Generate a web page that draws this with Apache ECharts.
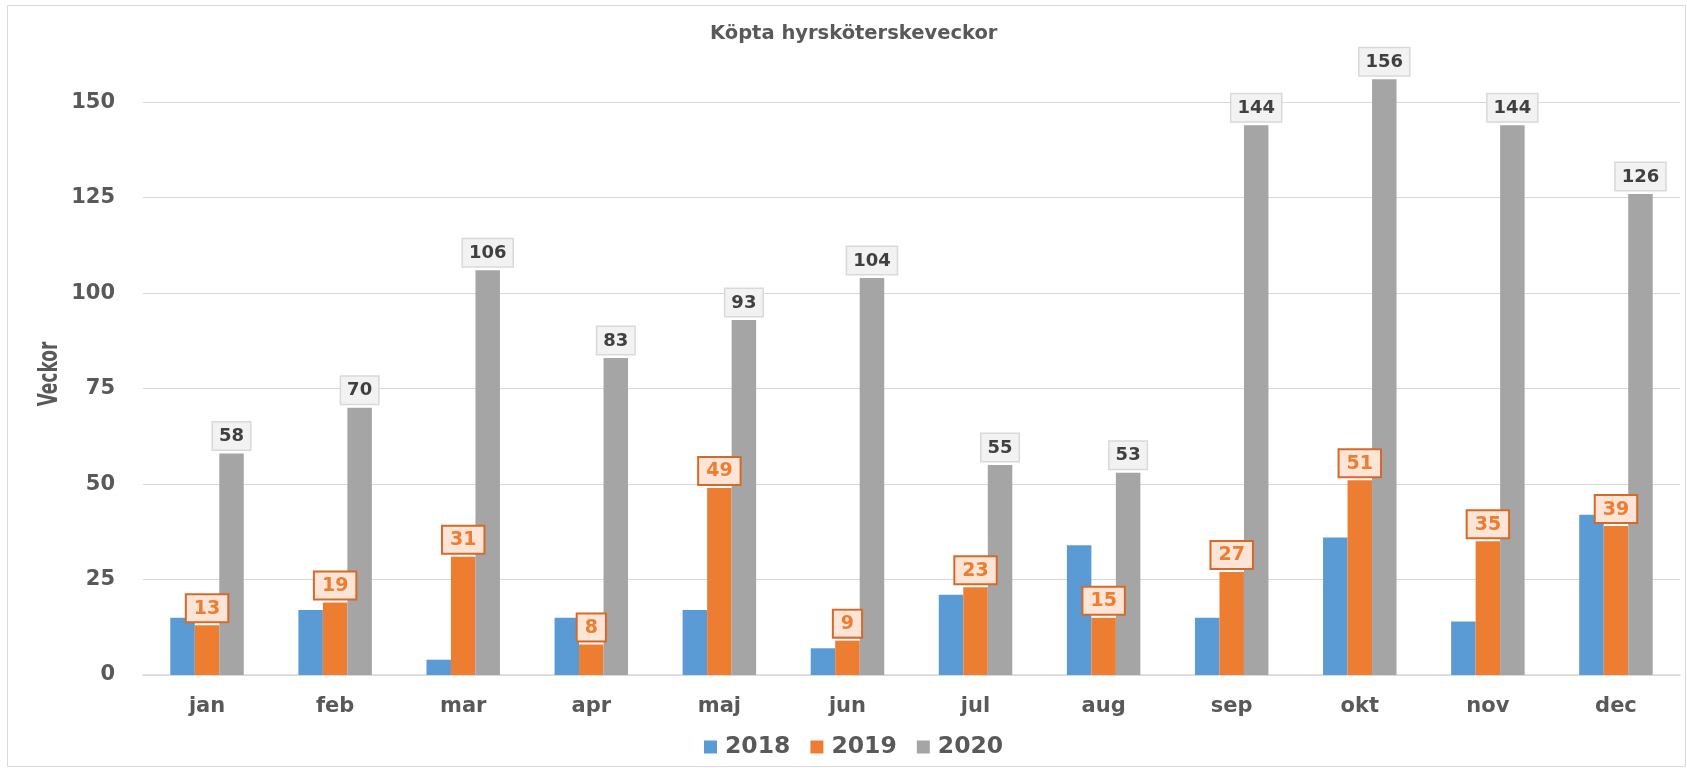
<!DOCTYPE html>
<html>
<head>
<meta charset="utf-8">
<script src="https://cdn.jsdelivr.net/npm/echarts@6/dist/echarts.min.js"></script>
<style>
html,body{margin:0;padding:0;background:#fff;}
#chart{width:1687px;height:768px;}
</style>
</head>
<body>
<div id="chart"></div>
<script>
const categories = ['jan','feb','mar','apr','maj','jun','jul','aug','sep','okt','nov','dec'];
const seriesNames = ['2018','2019','2020'];
const values2018 = [15,17,4,15,17,7,21,34,15,36,14,42];
const values2019 = [13,19,31,8,49,9,23,15,27,51,35,39];
const values2020 = [58,70,106,83,93,104,55,53,144,156,144,126];
const yTicks = [0,25,50,75,100,125,150];
const yAxisTitle = 'Veckor';

const FONT = "'DejaVu Sans', sans-serif";
const chart = echarts.init(document.getElementById('chart'));
chart.setOption({
  animation: false,
  backgroundColor: '#fff',
  title: {
    text: 'Köpta hyrsköterskeveckor',
    left: 705,
    top: 19,
    textStyle: {fontFamily: FONT, fontSize: 19.5, fontWeight: 'bold', color: '#595959'}
  },
  graphic: [{
    type: 'rect',
    shape: {x: 7.5, y: 5.5, width: 1678, height: 761},
    style: {fill: 'none', stroke: '#D9D9D9', lineWidth: 1},
    silent: true
  }, {
    type: 'text',
    x: 50, y: 374,
    rotation: Math.PI / 2,
    scaleX: 0.7,
    style: {
      text: yAxisTitle,
      fontFamily: "'DejaVu Sans Condensed','DejaVu Sans',sans-serif",
      fontSize: 27, fontWeight: 'bold', fill: '#595959',
      align: 'center', verticalAlign: 'middle'
    },
    silent: true
  }],
  legend: {
    data: seriesNames,
    top: 730,
    left: 699,
    itemWidth: 13,
    itemHeight: 13,
    itemGap: 20,
    icon: 'rect',
    textStyle: {fontFamily: FONT, fontSize: 23.5, fontWeight: 'bold', color: '#595959', padding: [0, 0, 0, 3]}
  },
  grid: {left: 143, right: 7, top: 45, bottom: 93},
  xAxis: {
    type: 'category',
    data: categories,
    axisLine: {lineStyle: {color: '#D9D9D9', width: 1.5}},
    axisTick: {show: false},
    axisLabel: {fontFamily: FONT, fontSize: 21, fontWeight: 'bold', color: '#595959', margin: 21}
  },
  yAxis: {
    type: 'value',
    min: 0,
    max: 165,
    interval: 25,
    axisLine: {show: false},
    axisTick: {show: false},
    axisLabel: {
      fontFamily: FONT, fontSize: 21, fontWeight: 'bold', color: '#595959', margin: 28,
      showMaxLabel: false,
      formatter: v => yTicks.includes(v) ? String(v) : ''
    },
    splitLine: {lineStyle: {color: '#D9D9D9', width: 1}, showMaxLine: false}
  },
  series: [
    {
      name: '2018', type: 'bar', data: values2018,
      barWidth: 24.5, barGap: '0%',
      itemStyle: {color: '#5B9BD5'}
    },
    {
      name: '2019', type: 'bar', data: values2019,
      barWidth: 24.5, barGap: '0%',
      itemStyle: {color: '#ED7D31'},
      label: {
        show: true, position: 'top', distance: 4,
        fontFamily: FONT, fontSize: 19, fontWeight: 'bold', color: '#ED7D31',
        backgroundColor: '#FCE4D6', borderColor: '#D5692A', borderWidth: 2,
        padding: [4, 7, 3, 7]
      }
    },
    {
      name: '2020', type: 'bar', data: values2020,
      barWidth: 24.5, barGap: '0%',
      itemStyle: {color: '#A5A5A5'},
      label: {
        show: true, position: 'top', distance: 4,
        fontFamily: FONT, fontSize: 18, fontWeight: 'bold', color: '#404040',
        backgroundColor: '#F2F2F2', borderColor: '#D9D9D9', borderWidth: 1.5,
        padding: [5, 6, 4, 6]
      }
    }
  ]
});
</script>
</body>
</html>
